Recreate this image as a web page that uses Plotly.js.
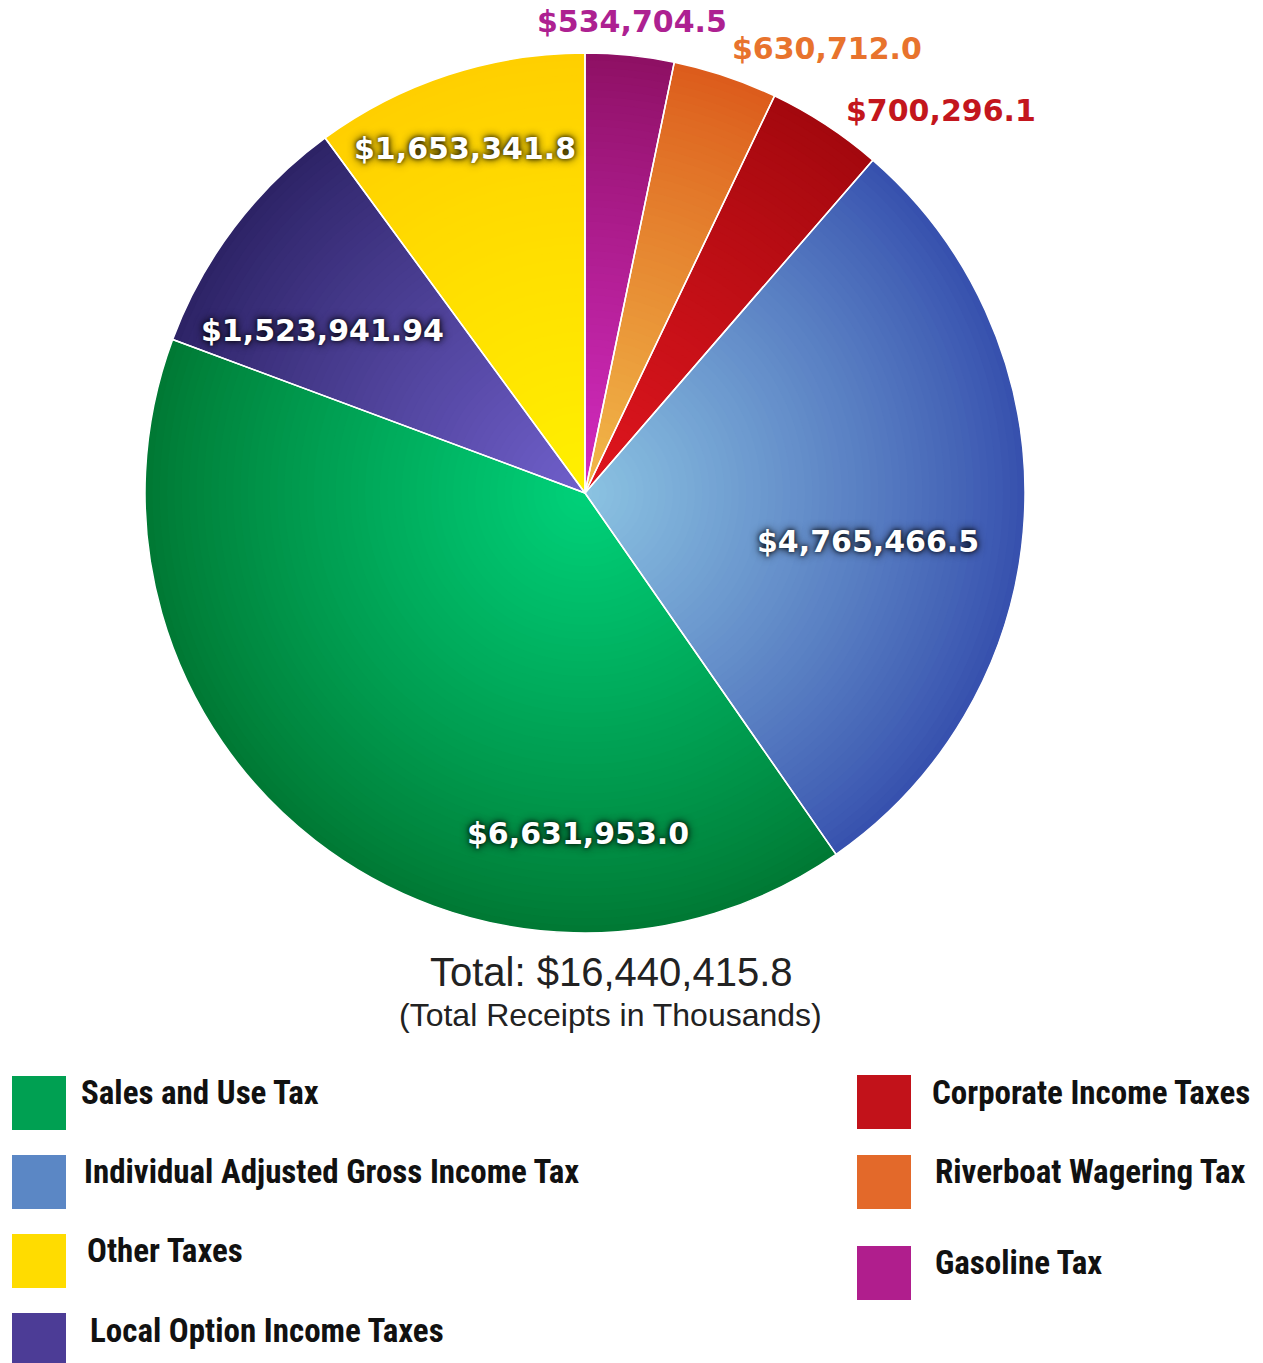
<!DOCTYPE html>
<html>
<head>
<meta charset="utf-8">
<script src="https://cdn.plot.ly/plotly-3.0.1.min.js"></script>
<style>
  html, body { margin: 0; padding: 0; background: #ffffff; }
  #chart { width: 1263px; height: 1363px; }
</style>
</head>
<body>
<div id="chart"></div>
<script>
// ---- data (receipts in thousands of dollars) ----
const categories = [
  "Gasoline Tax",
  "Riverboat Wagering Tax",
  "Corporate Income Taxes",
  "Individual Adjusted Gross Income Tax",
  "Sales and Use Tax",
  "Local Option Income Taxes",
  "Other Taxes"
];
const receipts = [534704.5, 630712.0, 700296.1, 4765466.5, 6631953.0, 1523941.94, 1653341.8];

// styling: flat legend colours, and edge/centre shades used for the radial shading of each slice
const legendColors = ["#b01e8d", "#e3692a", "#c2121a", "#5b87c5", "#00a052", "#4c3c96", "#ffdc00"];
const edgeColors   = ["#8e1064", "#dc5c1c", "#a3080e", "#3751ae", "#007934", "#2d2366", "#ffcf00"];
const centerColors = ["#d42cc2", "#f2ba4a", "#e0161e", "#8cc4e2", "#00d27a", "#7060cc", "#fff000"];
const labelColors  = ["#ad2191", "#e8732d", "#c3161d", "#ffffff", "#ffffff", "#ffffff", "#ffffff"];

const legendColumn1 = ["Sales and Use Tax", "Individual Adjusted Gross Income Tax", "Other Taxes", "Local Option Income Taxes"];
const legendColumn2 = ["Corporate Income Taxes", "Riverboat Wagering Tax", "Gasoline Tax"];

const totalTitle = "Total: $16,440,415.8";
const totalSubtitle = "(Total Receipts in Thousands)";

// ---- layout helpers (pixel positions) ----
const W = 1263, H = 1363;
const px = x => x / W;
const py = y => 1 - y / H;
const CX = 585, CY = 493, R = 440;

const fmt = v => "$" + v.toLocaleString("en-US", {minimumFractionDigits: 1, maximumFractionDigits: 2});

function hexToRgb(h) {
  return [parseInt(h.slice(1, 3), 16), parseInt(h.slice(3, 5), 16), parseInt(h.slice(5, 7), 16)];
}
function mix(a, b, t) {
  const A = hexToRgb(a), B = hexToRgb(b);
  const c = A.map((v, i) => Math.round(v + (B[i] - v) * t));
  return "rgb(" + c.join(",") + ")";
}

// label positions for each slice (pixels), in slice order
const labelPos = [[632, 22], [827, 48], [941, 110], [868, 542], [578, 833], [322, 330], [465, 148]];

const annotations = [];
categories.forEach((c, i) => {
  const white = labelColors[i] === "#ffffff";
  annotations.push({
    xref: "paper", yref: "paper",
    x: px(labelPos[i][0]), y: py(labelPos[i][1]),
    xanchor: "center", yanchor: "middle",
    text: fmt(receipts[i]),
    showarrow: false, borderpad: 0,
    font: {
      family: "DejaVu Sans, Verdana, sans-serif", size: 30, weight: 700,
      color: labelColors[i],
      shadow: white ? "0px 0px 10px rgba(0,0,0,0.9), 0px 0px 4px rgba(0,0,0,0.75)" : "none"
    }
  });
});

// total text
annotations.push({
  xref: "paper", yref: "paper", x: px(611), y: py(972),
  xanchor: "center", yanchor: "middle", showarrow: false, borderpad: 0,
  text: totalTitle,
  font: {family: "Liberation Sans, Arial, sans-serif", size: 40, color: "#222222"}
});
annotations.push({
  xref: "paper", yref: "paper", x: px(610), y: py(1015),
  xanchor: "center", yanchor: "middle", showarrow: false, borderpad: 0,
  text: totalSubtitle,
  font: {family: "Liberation Sans, Arial, sans-serif", size: 32, color: "#222222"}
});

// custom two-column legend
const shapes = [];
const colorOf = name => legendColors[categories.indexOf(name)];
const col1Boxes = [[12, 1076], [12, 1155], [12, 1234], [12, 1313]];
const col1Text = [[80, 1092], [83, 1171], [86, 1250], [89, 1330]];
const col2Boxes = [[857, 1075], [857, 1155], [857, 1246]];
const col2Text = [[931, 1092], [934, 1171], [934, 1262]];
const boxSize = 54;
function addLegend(names, boxes, texts) {
  names.forEach((n, i) => {
    const [bx, by] = boxes[i];
    shapes.push({
      type: "rect", xref: "paper", yref: "paper",
      x0: px(bx), x1: px(bx + boxSize), y0: py(by + boxSize), y1: py(by),
      fillcolor: colorOf(n), line: {width: 0}
    });
    annotations.push({
      xref: "paper", yref: "paper", x: px(texts[i][0]), y: py(texts[i][1]),
      xanchor: "left", yanchor: "middle", showarrow: false, borderpad: 0,
      text: n,
      font: {family: "Liberation Sans Narrow, Roboto Condensed, Arial Narrow, sans-serif", size: 33, weight: 700, color: "#111111"}
    });
  });
}
addLegend(legendColumn1, col1Boxes, col1Text);
addLegend(legendColumn2, col2Boxes, col2Text);

// pie: concentric copies of the same slices give the radial shading
const traces = [];
const RINGS = 60;
for (let k = 0; k < RINGS; k++) {
  const r = 1 - k / RINGS;            // relative radius of this copy
  const t = Math.pow(1 - r, 0.9);     // 0 at rim, ->1 at centre
  const rr = R * r;
  traces.push({
    type: "pie",
    labels: categories,
    values: receipts,
    sort: false,
    direction: "clockwise",
    rotation: 0,
    textinfo: "none",
    hoverinfo: k === 0 ? "label+value+percent" : "skip",
    marker: {colors: edgeColors.map((e, i) => mix(e, centerColors[i], t)), line: {width: 0}},
    domain: {x: [px(CX - rr), px(CX + rr)], y: [py(CY + rr), py(CY - rr)]},
    showlegend: false
  });
}
// white slice separators on top
traces.push({
  type: "pie",
  labels: categories,
  values: receipts,
  sort: false,
  direction: "clockwise",
  rotation: 0,
  textinfo: "none",
  hoverinfo: "skip",
  marker: {colors: categories.map(() => "rgba(0,0,0,0)"), line: {color: "#ffffff", width: 1.5}},
  domain: {x: [px(CX - R), px(CX + R)], y: [py(CY + R), py(CY - R)]},
  showlegend: false
});

const layout = {
  width: W, height: H,
  margin: {l: 0, r: 0, t: 0, b: 0},
  paper_bgcolor: "#ffffff",
  showlegend: false,
  annotations: annotations,
  shapes: shapes
};

Plotly.newPlot("chart", traces, layout, {displayModeBar: false, staticPlot: true});
</script>
</body>
</html>
